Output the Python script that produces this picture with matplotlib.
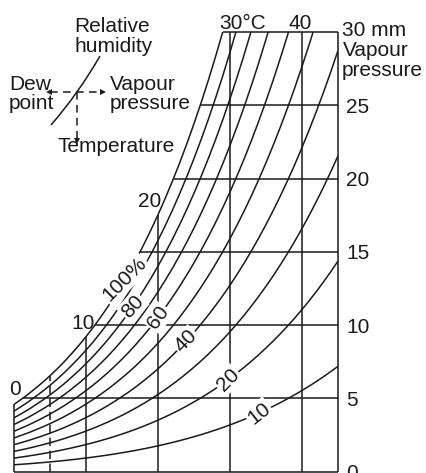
import numpy as np
import matplotlib
matplotlib.use("Agg")
import matplotlib.pyplot as plt
from matplotlib.path import Path
from matplotlib.patches import PathPatch

# Saturation vapour pressure of water (mm Hg) at whole degrees Celsius
temps_c = list(range(0, 46))
sat_mm = [4.58, 4.93, 5.29, 5.69, 6.10, 6.54, 7.01, 7.51, 8.05, 8.61,
          9.21, 9.84, 10.52, 11.23, 11.99, 12.79, 13.63, 14.53, 15.48, 16.48,
          17.54, 18.65, 19.83, 21.07, 22.38, 23.76, 25.21, 26.74, 28.35, 30.04,
          31.82, 33.70, 35.66, 37.73, 39.90, 42.18, 44.56, 47.07, 49.69, 52.44,
          55.32, 58.34, 61.50, 64.80, 68.26, 71.88]

# Relative humidity curves (%) and the ones that carry a label
rh_levels = [100, 90, 80, 70, 60, 50, 40, 30, 20, 10]
rh_labels = ["100%", "80", "60", "40", "20", "10"]
rh_labelled = [100, 80, 60, 40, 20, 10]

pressure_lines = [5, 10, 15, 20, 25]
pressure_ticks = ["0", "5", "10", "15", "20", "25"]
temp_lines = [10, 20, 30, 40]
temp_tick_labels = ["0", "10", "20", "30°C", "40"]

plt.rcParams["font.family"] = ["Liberation Sans", "DejaVu Sans"]
INK = "#1a1a1a"
LW = 1.1
FS = 15

W, H = 426, 473
fig = plt.figure(figsize=(W / 100, H / 100), dpi=100)
fig.patch.set_facecolor("white")

T = np.array(temps_c, dtype=float)
S = np.array(sat_mm)
T_MAX, P_MAX = 45, 30

ax = fig.add_axes([14 / W, 1 - 471.5 / H, 324 / W, 439.2 / H])
ax.set_xlim(0, T_MAX)
ax.set_ylim(0, P_MAX)
ax.axis("off")


def sat_at(t):
    return float(np.interp(t, T, S))


def temp_at(p):
    return float(np.interp(p, S, T))


line_kw = dict(color=INK, lw=LW, solid_capstyle="butt")

# chart frame
t_top = temp_at(P_MAX)
ax.plot([T_MAX, T_MAX], [0, P_MAX], clip_on=False, **line_kw)
ax.plot([0, T_MAX], [0, 0], clip_on=False, **line_kw)
ax.plot([t_top, T_MAX], [P_MAX, P_MAX], clip_on=False, **line_kw)
ax.plot([0, 0], [0, sat_at(0)], clip_on=False, **line_kw)

# temperature lines up to the saturation curve
for t in temp_lines:
    ax.plot([t, t], [0, min(sat_at(t), P_MAX)], **line_kw)
ax.plot([5, 5], [0, sat_at(5)], color=INK, lw=LW, dashes=(5.5, 3))

# vapour pressure lines from the saturation curve to the right edge
for p in pressure_lines:
    ax.plot([temp_at(p), T_MAX], [p, p], **line_kw)

# relative humidity curves
for rh in rh_levels:
    ax.plot(T, S * rh / 100, **line_kw)

# inline curve labels
label_temp = [15.4, 16.5, 20.0, 23.9, 29.7, 34.0]
label_rot = [45, 48, 55, 45, 45, 38]
for rh, txt, t, rot in zip(rh_labelled, rh_labels, label_temp, label_rot):
    ax.text(t, sat_at(t) * rh / 100, txt, rotation=rot, rotation_mode="anchor",
            ha="center", va="center", fontsize=FS, color=INK, zorder=5,
            bbox=dict(fc="white", ec="none", pad=1.0))

# right-hand vapour pressure scale
for p, txt in zip([0] + pressure_lines, pressure_ticks):
    ax.annotate(txt, xy=(T_MAX, p), xytext=(8, 0), textcoords="offset pixels",
                ha="left", va="center_baseline", fontsize=FS, color=INK,
                annotation_clip=False)

# temperature labels at the tops of the temperature lines
temp_label_at = [0, 10, 20, 30, 40]
temp_label_off = [(0.5, 17), (-3, 15), (-8, 15), (13, 11), (-2, 11)]
for t, txt, off in zip(temp_label_at, temp_tick_labels, temp_label_off):
    ax.annotate(txt, xy=(t, min(sat_at(t), P_MAX)), xytext=off,
                textcoords="offset pixels", ha="center", va="center_baseline",
                fontsize=FS, color=INK, annotation_clip=False)

# overlay in pixel units for the key and the free-standing captions
ov = fig.add_axes([0, 0, 1, 1])
ov.set_xlim(0, W)
ov.set_ylim(H, 0)
ov.axis("off")
ov.patch.set_alpha(0)

txt_kw = dict(fontsize=FS, color=INK, va="baseline")
ov.text(112, 31.5, "Relative", ha="center", **txt_kw)
ov.text(114, 51.5, "humidity", ha="center", **txt_kw)
ov.text(9, 90, "Dew", ha="left", **txt_kw)
ov.text(9, 109, "point", ha="left", **txt_kw)
ov.text(110, 90, "Vapour", ha="left", **txt_kw)
ov.text(110, 109, "pressure", ha="left", **txt_kw)
ov.text(57, 151.5, "Temperature", ha="left", **txt_kw)
ov.text(342, 36.5, "30 mm", ha="left", **txt_kw)
ov.text(343, 56.5, "Vapour", ha="left", **txt_kw)
ov.text(342, 75.5, "pressure", ha="left", **txt_kw)

# key: a humidity curve with dashed guides to its three readings
key = Path([(51, 125), (78.5, 93.5), (100, 56)], [Path.MOVETO, Path.CURVE3, Path.CURVE3])
ov.add_patch(PathPatch(key, fc="none", ec=INK, lw=LW))
ov.plot([50, 102], [92, 92], color=INK, lw=LW, dashes=(5, 3.5))
ov.plot([77, 77], [92, 141], color=INK, lw=LW, dashes=(5, 3.5))
ov.plot([48.5], [92], marker="<", ms=5, color=INK, mew=0)
ov.plot([102.5], [92], marker=">", ms=5, color=INK, mew=0)
ov.plot([77], [141.5], marker="v", ms=5, color=INK, mew=0)

fig.savefig("out.png", dpi=100, facecolor="white")
